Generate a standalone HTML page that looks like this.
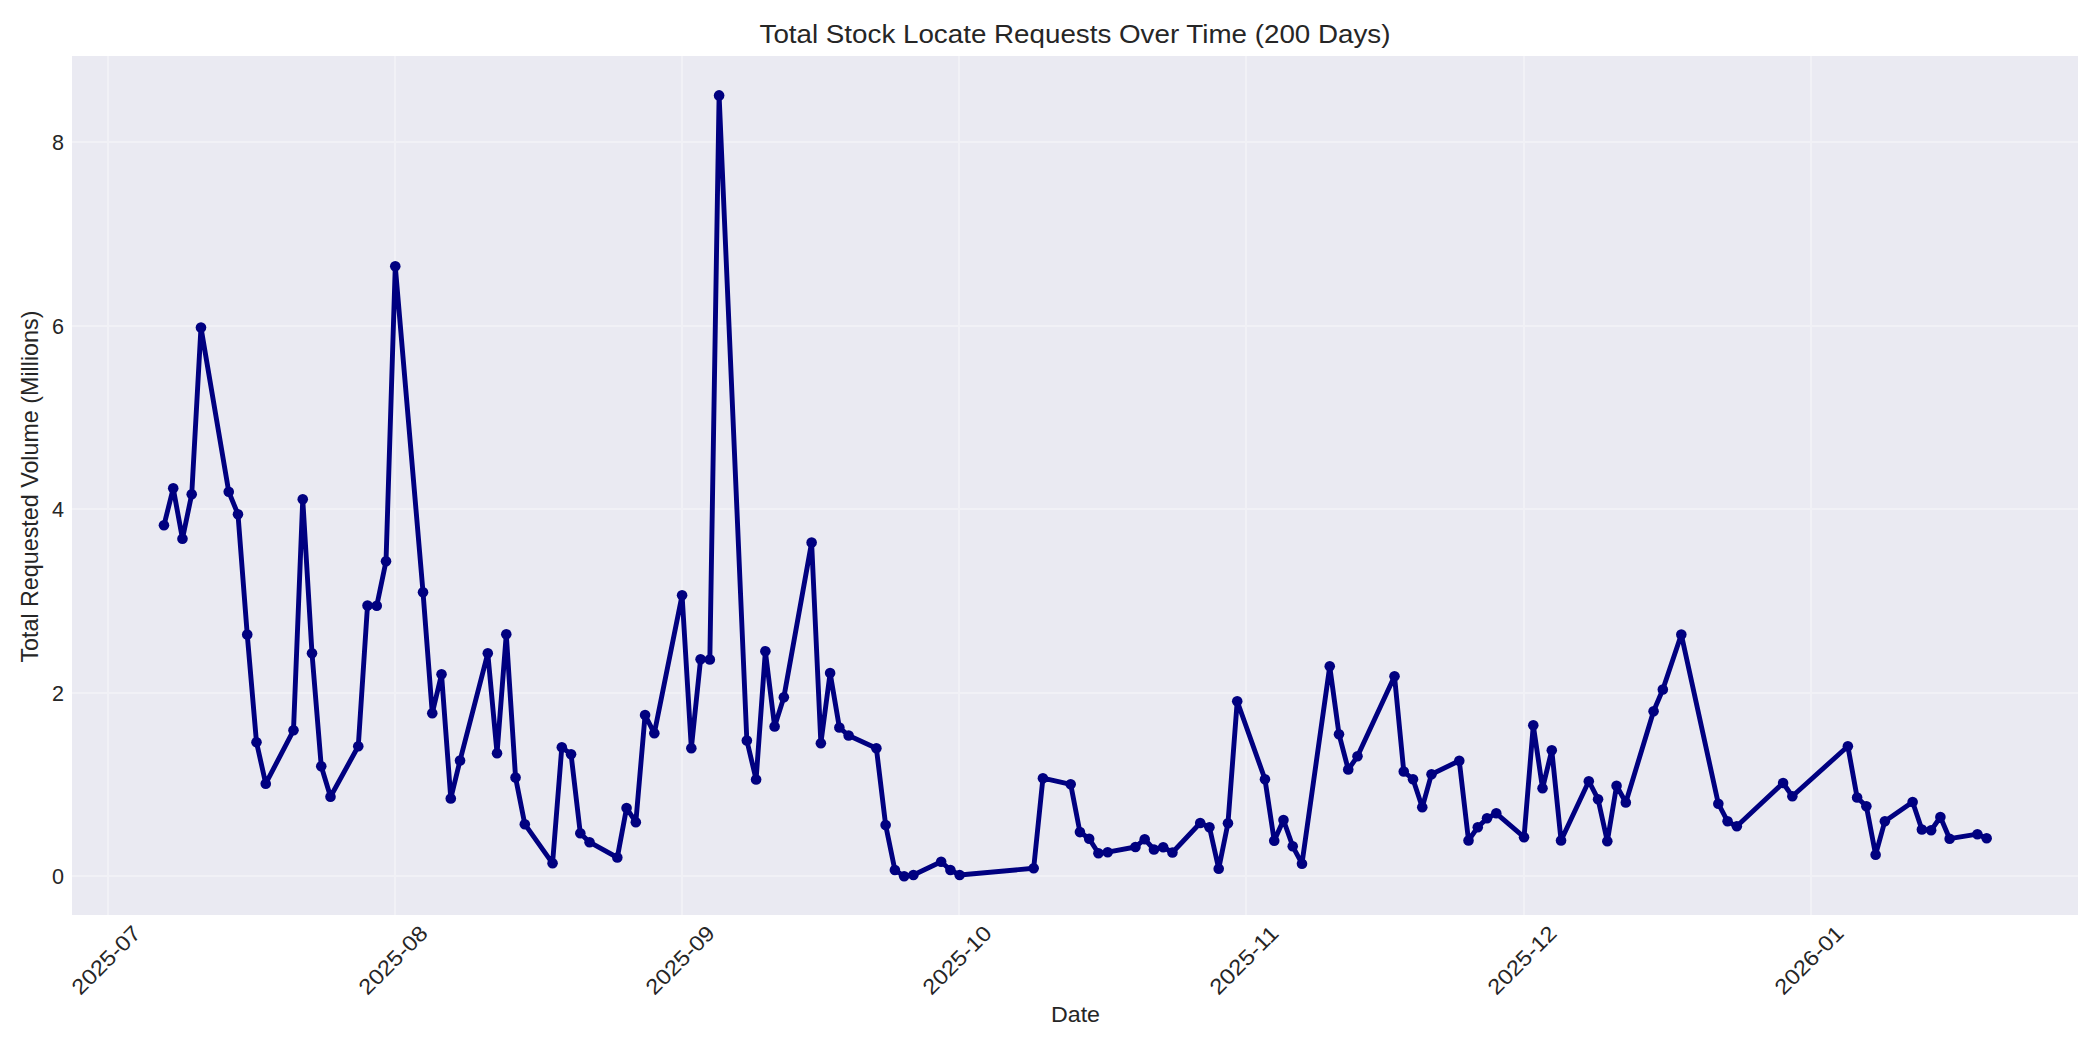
<!DOCTYPE html>
<html><head><meta charset="utf-8"><style>
html,body{margin:0;padding:0;background:#fff;}
body{width:2100px;height:1050px;overflow:hidden;}
svg{display:block;font-family:"Liberation Sans",sans-serif;}
</style></head><body>
<svg width="2100" height="1050" viewBox="0 0 2100 1050">
<rect x="0" y="0" width="2100" height="1050" fill="#ffffff"/>
<rect x="72" y="56" width="2006" height="859" fill="#EAEAF2"/>
<g stroke="#F1F1F6" stroke-width="2"><line x1="108.00" y1="56" x2="108.00" y2="915"/><line x1="395.00" y1="56" x2="395.00" y2="915"/><line x1="682.00" y1="56" x2="682.00" y2="915"/><line x1="959.00" y1="56" x2="959.00" y2="915"/><line x1="1246.00" y1="56" x2="1246.00" y2="915"/><line x1="1524.00" y1="56" x2="1524.00" y2="915"/><line x1="1811.00" y1="56" x2="1811.00" y2="915"/><line x1="72" y1="876.00" x2="2078" y2="876.00"/><line x1="72" y1="693.00" x2="2078" y2="693.00"/><line x1="72" y1="509.00" x2="2078" y2="509.00"/><line x1="72" y1="326.00" x2="2078" y2="326.00"/><line x1="72" y1="142.00" x2="2078" y2="142.00"/></g>
<polyline points="163.96,525.30 173.22,488.30 182.47,538.70 191.72,494.30 200.97,327.50 228.73,491.70 237.98,514.30 247.23,634.50 256.49,742.20 265.74,783.70 293.49,730.30 302.75,499.30 312.00,653.30 321.25,766.20 330.50,796.70 358.26,746.30 367.51,605.50 376.76,605.80 386.02,561.20 395.27,266.30 423.02,592.20 432.28,713.30 441.53,674.30 450.78,798.50 460.03,760.50 487.79,653.30 497.04,753.30 506.29,634.30 515.55,777.50 524.80,824.20 552.56,863.30 561.81,747.30 571.06,754.30 580.31,833.30 589.56,842.20 617.32,857.50 626.57,808.00 635.83,822.20 645.08,715.00 654.33,733.30 682.09,595.30 691.34,748.30 700.59,659.20 709.84,659.50 719.10,95.40 746.85,740.50 756.10,779.50 765.36,651.20 774.61,726.50 783.86,697.20 811.62,542.50 820.87,743.30 830.12,673.00 839.37,727.50 848.63,735.50 876.38,748.30 885.63,825.00 894.89,870.00 904.14,876.20 913.39,875.00 941.15,861.70 950.40,870.00 959.65,875.00 1033.67,868.30 1042.92,778.20 1070.68,784.30 1079.93,832.10 1089.18,838.80 1098.44,853.30 1107.69,852.20 1135.44,847.00 1144.70,839.20 1153.95,849.50 1163.20,847.20 1172.45,852.50 1200.21,823.00 1209.46,827.20 1218.71,868.70 1227.97,823.30 1237.22,701.20 1264.98,779.30 1274.23,840.80 1283.48,820.00 1292.73,846.30 1301.98,863.70 1329.74,666.30 1338.99,734.20 1348.24,769.50 1357.50,756.30 1394.51,676.20 1403.76,771.50 1413.01,779.30 1422.26,807.30 1431.51,774.20 1459.27,760.80 1468.52,840.50 1477.78,827.20 1487.03,818.30 1496.28,813.30 1524.04,837.20 1533.29,725.30 1542.54,788.30 1551.79,750.30 1561.05,840.50 1588.80,781.20 1598.05,799.20 1607.31,841.30 1616.56,785.80 1625.81,802.50 1653.57,711.30 1662.82,689.50 1681.32,634.50 1718.33,803.70 1727.59,821.30 1736.84,826.30 1783.10,783.00 1792.35,796.30 1847.86,746.20 1857.12,797.50 1866.37,806.20 1875.62,854.70 1884.87,821.20 1912.63,802.00 1921.88,829.50 1931.13,830.30 1940.39,817.00 1949.64,838.70 1977.39,834.20 1986.65,838.30" fill="none" stroke="#000080" stroke-width="4.9" stroke-linejoin="round" stroke-linecap="round"/>
<g fill="#000080"><circle cx="163.96" cy="525.30" r="5.3"/><circle cx="173.22" cy="488.30" r="5.3"/><circle cx="182.47" cy="538.70" r="5.3"/><circle cx="191.72" cy="494.30" r="5.3"/><circle cx="200.97" cy="327.50" r="5.3"/><circle cx="228.73" cy="491.70" r="5.3"/><circle cx="237.98" cy="514.30" r="5.3"/><circle cx="247.23" cy="634.50" r="5.3"/><circle cx="256.49" cy="742.20" r="5.3"/><circle cx="265.74" cy="783.70" r="5.3"/><circle cx="293.49" cy="730.30" r="5.3"/><circle cx="302.75" cy="499.30" r="5.3"/><circle cx="312.00" cy="653.30" r="5.3"/><circle cx="321.25" cy="766.20" r="5.3"/><circle cx="330.50" cy="796.70" r="5.3"/><circle cx="358.26" cy="746.30" r="5.3"/><circle cx="367.51" cy="605.50" r="5.3"/><circle cx="376.76" cy="605.80" r="5.3"/><circle cx="386.02" cy="561.20" r="5.3"/><circle cx="395.27" cy="266.30" r="5.3"/><circle cx="423.02" cy="592.20" r="5.3"/><circle cx="432.28" cy="713.30" r="5.3"/><circle cx="441.53" cy="674.30" r="5.3"/><circle cx="450.78" cy="798.50" r="5.3"/><circle cx="460.03" cy="760.50" r="5.3"/><circle cx="487.79" cy="653.30" r="5.3"/><circle cx="497.04" cy="753.30" r="5.3"/><circle cx="506.29" cy="634.30" r="5.3"/><circle cx="515.55" cy="777.50" r="5.3"/><circle cx="524.80" cy="824.20" r="5.3"/><circle cx="552.56" cy="863.30" r="5.3"/><circle cx="561.81" cy="747.30" r="5.3"/><circle cx="571.06" cy="754.30" r="5.3"/><circle cx="580.31" cy="833.30" r="5.3"/><circle cx="589.56" cy="842.20" r="5.3"/><circle cx="617.32" cy="857.50" r="5.3"/><circle cx="626.57" cy="808.00" r="5.3"/><circle cx="635.83" cy="822.20" r="5.3"/><circle cx="645.08" cy="715.00" r="5.3"/><circle cx="654.33" cy="733.30" r="5.3"/><circle cx="682.09" cy="595.30" r="5.3"/><circle cx="691.34" cy="748.30" r="5.3"/><circle cx="700.59" cy="659.20" r="5.3"/><circle cx="709.84" cy="659.50" r="5.3"/><circle cx="719.10" cy="95.40" r="5.3"/><circle cx="746.85" cy="740.50" r="5.3"/><circle cx="756.10" cy="779.50" r="5.3"/><circle cx="765.36" cy="651.20" r="5.3"/><circle cx="774.61" cy="726.50" r="5.3"/><circle cx="783.86" cy="697.20" r="5.3"/><circle cx="811.62" cy="542.50" r="5.3"/><circle cx="820.87" cy="743.30" r="5.3"/><circle cx="830.12" cy="673.00" r="5.3"/><circle cx="839.37" cy="727.50" r="5.3"/><circle cx="848.63" cy="735.50" r="5.3"/><circle cx="876.38" cy="748.30" r="5.3"/><circle cx="885.63" cy="825.00" r="5.3"/><circle cx="894.89" cy="870.00" r="5.3"/><circle cx="904.14" cy="876.20" r="5.3"/><circle cx="913.39" cy="875.00" r="5.3"/><circle cx="941.15" cy="861.70" r="5.3"/><circle cx="950.40" cy="870.00" r="5.3"/><circle cx="959.65" cy="875.00" r="5.3"/><circle cx="1033.67" cy="868.30" r="5.3"/><circle cx="1042.92" cy="778.20" r="5.3"/><circle cx="1070.68" cy="784.30" r="5.3"/><circle cx="1079.93" cy="832.10" r="5.3"/><circle cx="1089.18" cy="838.80" r="5.3"/><circle cx="1098.44" cy="853.30" r="5.3"/><circle cx="1107.69" cy="852.20" r="5.3"/><circle cx="1135.44" cy="847.00" r="5.3"/><circle cx="1144.70" cy="839.20" r="5.3"/><circle cx="1153.95" cy="849.50" r="5.3"/><circle cx="1163.20" cy="847.20" r="5.3"/><circle cx="1172.45" cy="852.50" r="5.3"/><circle cx="1200.21" cy="823.00" r="5.3"/><circle cx="1209.46" cy="827.20" r="5.3"/><circle cx="1218.71" cy="868.70" r="5.3"/><circle cx="1227.97" cy="823.30" r="5.3"/><circle cx="1237.22" cy="701.20" r="5.3"/><circle cx="1264.98" cy="779.30" r="5.3"/><circle cx="1274.23" cy="840.80" r="5.3"/><circle cx="1283.48" cy="820.00" r="5.3"/><circle cx="1292.73" cy="846.30" r="5.3"/><circle cx="1301.98" cy="863.70" r="5.3"/><circle cx="1329.74" cy="666.30" r="5.3"/><circle cx="1338.99" cy="734.20" r="5.3"/><circle cx="1348.24" cy="769.50" r="5.3"/><circle cx="1357.50" cy="756.30" r="5.3"/><circle cx="1394.51" cy="676.20" r="5.3"/><circle cx="1403.76" cy="771.50" r="5.3"/><circle cx="1413.01" cy="779.30" r="5.3"/><circle cx="1422.26" cy="807.30" r="5.3"/><circle cx="1431.51" cy="774.20" r="5.3"/><circle cx="1459.27" cy="760.80" r="5.3"/><circle cx="1468.52" cy="840.50" r="5.3"/><circle cx="1477.78" cy="827.20" r="5.3"/><circle cx="1487.03" cy="818.30" r="5.3"/><circle cx="1496.28" cy="813.30" r="5.3"/><circle cx="1524.04" cy="837.20" r="5.3"/><circle cx="1533.29" cy="725.30" r="5.3"/><circle cx="1542.54" cy="788.30" r="5.3"/><circle cx="1551.79" cy="750.30" r="5.3"/><circle cx="1561.05" cy="840.50" r="5.3"/><circle cx="1588.80" cy="781.20" r="5.3"/><circle cx="1598.05" cy="799.20" r="5.3"/><circle cx="1607.31" cy="841.30" r="5.3"/><circle cx="1616.56" cy="785.80" r="5.3"/><circle cx="1625.81" cy="802.50" r="5.3"/><circle cx="1653.57" cy="711.30" r="5.3"/><circle cx="1662.82" cy="689.50" r="5.3"/><circle cx="1681.32" cy="634.50" r="5.3"/><circle cx="1718.33" cy="803.70" r="5.3"/><circle cx="1727.59" cy="821.30" r="5.3"/><circle cx="1736.84" cy="826.30" r="5.3"/><circle cx="1783.10" cy="783.00" r="5.3"/><circle cx="1792.35" cy="796.30" r="5.3"/><circle cx="1847.86" cy="746.20" r="5.3"/><circle cx="1857.12" cy="797.50" r="5.3"/><circle cx="1866.37" cy="806.20" r="5.3"/><circle cx="1875.62" cy="854.70" r="5.3"/><circle cx="1884.87" cy="821.20" r="5.3"/><circle cx="1912.63" cy="802.00" r="5.3"/><circle cx="1921.88" cy="829.50" r="5.3"/><circle cx="1931.13" cy="830.30" r="5.3"/><circle cx="1940.39" cy="817.00" r="5.3"/><circle cx="1949.64" cy="838.70" r="5.3"/><circle cx="1977.39" cy="834.20" r="5.3"/><circle cx="1986.65" cy="838.30" r="5.3"/></g>
<g fill="#262626" font-size="22.5"><text x="64" y="884.00" text-anchor="end" textLength="12" lengthAdjust="spacingAndGlyphs">0</text><text x="64" y="701.00" text-anchor="end" textLength="12" lengthAdjust="spacingAndGlyphs">2</text><text x="64" y="517.00" text-anchor="end" textLength="12" lengthAdjust="spacingAndGlyphs">4</text><text x="64" y="334.00" text-anchor="end" textLength="12" lengthAdjust="spacingAndGlyphs">6</text><text x="64" y="150.00" text-anchor="end" textLength="12" lengthAdjust="spacingAndGlyphs">8</text></g>
<g fill="#262626" font-size="21.6"><text transform="translate(131.50,924.00) rotate(-45)" x="0" y="0" text-anchor="end" dy="15" textLength="87" lengthAdjust="spacingAndGlyphs">2025-07</text><text transform="translate(418.50,924.00) rotate(-45)" x="0" y="0" text-anchor="end" dy="15" textLength="87" lengthAdjust="spacingAndGlyphs">2025-08</text><text transform="translate(705.50,924.00) rotate(-45)" x="0" y="0" text-anchor="end" dy="15" textLength="87" lengthAdjust="spacingAndGlyphs">2025-09</text><text transform="translate(982.50,924.00) rotate(-45)" x="0" y="0" text-anchor="end" dy="15" textLength="87" lengthAdjust="spacingAndGlyphs">2025-10</text><text transform="translate(1269.50,924.00) rotate(-45)" x="0" y="0" text-anchor="end" dy="15" textLength="87" lengthAdjust="spacingAndGlyphs">2025-11</text><text transform="translate(1547.50,924.00) rotate(-45)" x="0" y="0" text-anchor="end" dy="15" textLength="87" lengthAdjust="spacingAndGlyphs">2025-12</text><text transform="translate(1834.50,924.00) rotate(-45)" x="0" y="0" text-anchor="end" dy="15" textLength="87" lengthAdjust="spacingAndGlyphs">2026-01</text></g>
<text x="1075" y="43" text-anchor="middle" font-size="25" fill="#262626" textLength="631" lengthAdjust="spacingAndGlyphs">Total Stock Locate Requests Over Time (200 Days)</text>
<text x="1075.5" y="1021.8" text-anchor="middle" font-size="22.9" fill="#262626" textLength="49" lengthAdjust="spacingAndGlyphs">Date</text>
<text transform="translate(37.8,486.6) rotate(-90)" x="0" y="0" text-anchor="middle" font-size="23.4" fill="#262626" textLength="352" lengthAdjust="spacingAndGlyphs">Total Requested Volume (Millions)</text>
</svg>
</body></html>
